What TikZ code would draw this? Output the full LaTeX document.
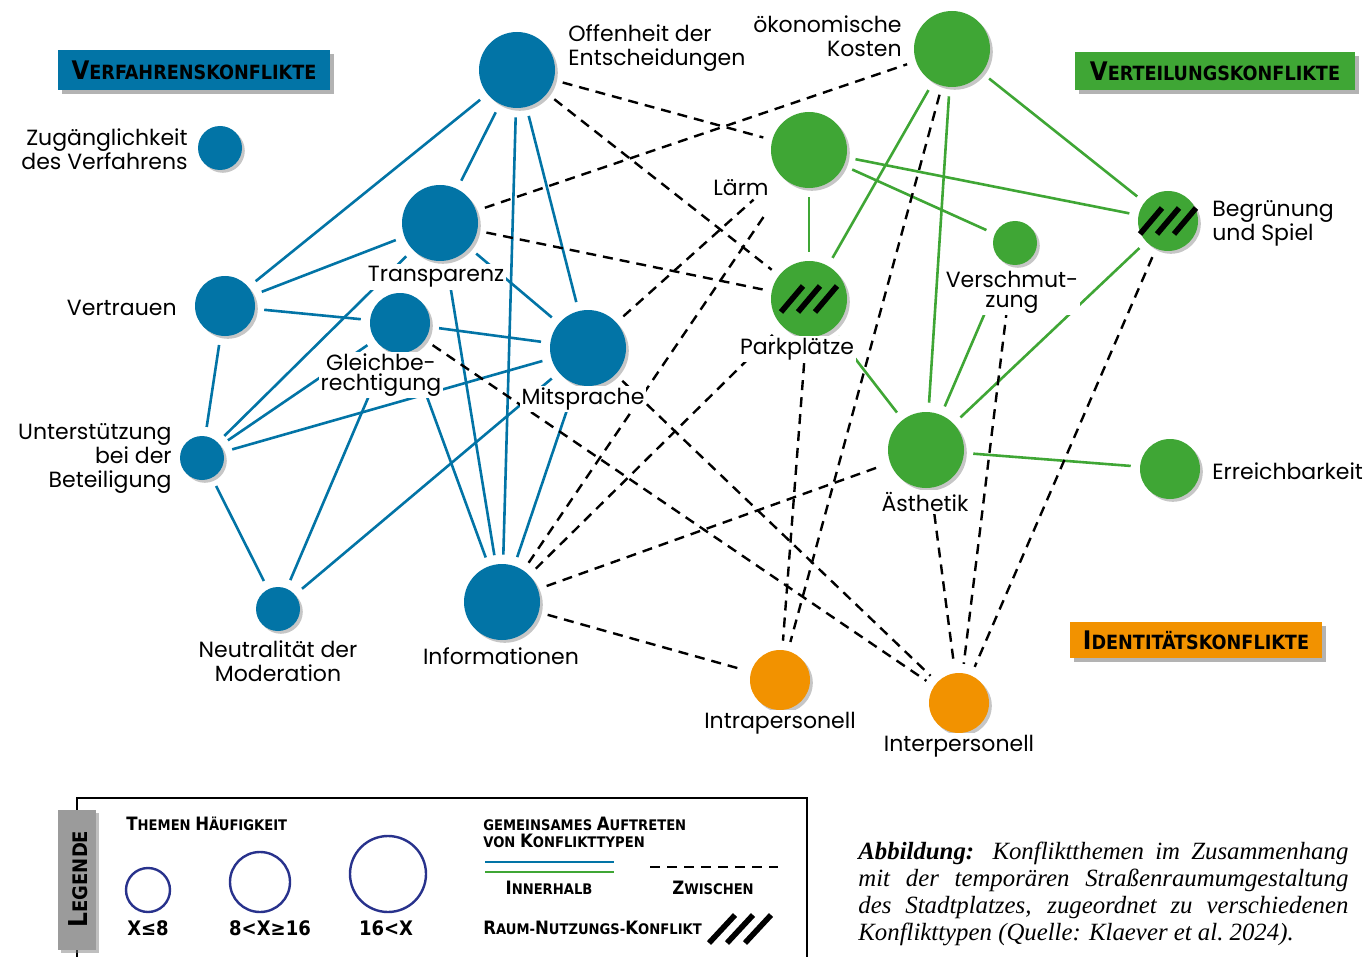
\documentclass[tikz,border=0pt]{standalone}
\usepackage{fontspec}
\setmainfont{Poppins}
\newfontfamily\kapfont{DejaVu Sans Condensed}
\newfontfamily\capfont{Liberation Serif}
\usetikzlibrary{shadows}
\definecolor{vblau}{RGB}{2,116,166}
\definecolor{vgruen}{RGB}{63,166,53}
\definecolor{iorange}{RGB}{242,146,0}
\definecolor{lgrau}{RGB}{155,155,155}
\definecolor{lnavy}{RGB}{40,50,140}
% fake small caps: size of the capital, capital, rest
\newcommand{\kap}[3]{{\fontsize{#1}{#1}\selectfont #2}#3}
\begin{document}
\begin{tikzpicture}[x=0.5pt,y=-0.5pt,
    thema/.style={circle,inner sep=0pt,drop shadow={shadow xshift=1.4pt,shadow yshift=-1.4pt,opacity=0.45}},
    klein/.style={thema,minimum size=22pt},
    mittel/.style={thema,minimum size=30pt},
    gross/.style={thema,minimum size=38pt},
    lbl/.style={fill=white,inner sep=1pt,align=center,font=\fontsize{11}{12}\selectfont},
    eng/.style={font=\fontsize{11}{10}\selectfont},
    innen/.style={line width=1.3pt,shorten <=4.5pt,shorten >=4.5pt},
    zwischen/.style={line width=1.2pt,dash pattern=on 5pt off 3.5pt,shorten <=4.5pt,shorten >=4.5pt},
    kopf/.style={inner sep=0pt,font=\kapfont\bfseries\fontsize{9.8}{10}\selectfont,
        drop shadow={shadow xshift=2pt,shadow yshift=-2pt,opacity=0.6}},
    legtxt/.style={inner sep=0pt,align=left,font=\kapfont\bfseries\fontsize{7.3}{8.5}\selectfont},
]
\useasboundingbox (0,0) rectangle (1370,957);

% Verfahrenskonflikte
\node[gross,fill=vblau] (offen) at (517,70) {};
\node[klein,fill=vblau] (zugang) at (220,148) {};
\node[gross,fill=vblau] (transp) at (440,223) {};
\node[mittel,fill=vblau] (vertr) at (225,306) {};
\node[mittel,fill=vblau] (gleich) at (400,323) {};
\node[gross,fill=vblau] (mitspr) at (588,348) {};
\node[klein,fill=vblau] (unterst) at (202,458) {};
\node[klein,fill=vblau] (neutr) at (278,609) {};
\node[gross,fill=vblau] (inform) at (502,602) {};
% Verteilungskonflikte
\node[gross,fill=vgruen] (kosten) at (952,49) {};
\node[gross,fill=vgruen] (laerm) at (809,150) {};
\node[gross,fill=vgruen] (park) at (809,299) {};
\node[klein,fill=vgruen] (schmutz) at (1015,243) {};
\node[mittel,fill=vgruen] (begr) at (1168,221) {};
\node[gross,fill=vgruen] (aesth) at (926,450) {};
\node[mittel,fill=vgruen] (erreich) at (1170,469) {};
% Identitaetskonflikte
\node[mittel,fill=iorange] (intra) at (780,680) {};
\node[mittel,fill=iorange] (inter) at (959,703) {};

\foreach \a/\b in {offen/vertr,offen/transp,offen/inform,offen/mitspr,transp/vertr,transp/mitspr,
    transp/inform,transp/unterst,vertr/gleich,vertr/unterst,gleich/mitspr,gleich/unterst,gleich/neutr,
    gleich/inform,mitspr/unterst,mitspr/neutr,mitspr/inform,unterst/neutr}
    \draw[innen,vblau] (\a) -- (\b);
\foreach \a/\b in {kosten/park,kosten/aesth,kosten/begr,laerm/begr,laerm/schmutz,laerm/park,
    begr/aesth,aesth/schmutz,aesth/erreich,aesth/park}
    \draw[innen,vgruen] (\a) -- (\b);
\foreach \a/\b in {offen/laerm,offen/park,transp/kosten,transp/park,inform/park,inform/aesth,
    inform/intra,gleich/inter,mitspr/inter,park/intra,kosten/intra,aesth/inter,schmutz/inter,begr/inter}
    \draw[zwischen] (\a) -- (\b);
\draw[zwischen,shorten >=18pt] (mitspr) -- (laerm);
\draw[zwischen,shorten >=18pt] (inform) -- (laerm);

% Raum-Nutzungs-Konflikt
\foreach \n in {park,begr}
    \foreach \d in {-17,0,17}
        \draw[line width=2.8pt] ([shift={(\d-11,13)}]\n.center) -- ([shift={(\d+11,-13)}]\n.center);

\node[lbl,anchor=west,align=left] (offen-l) at (566,48) {Offenheit der\\Entscheidungen};
\node[lbl,anchor=east,align=right] (zugang-l) at (190,149) {Zugänglichkeit\\des Verfahrens};
\node[lbl] (transp-l) at (436,277) {Transparenz};
\node[lbl,anchor=east] (vertr-l) at (179,308) {Vertrauen};
\node[lbl,eng] (gleich-l) at (381,375) {Gleichbe-\\rechtigung};
\node[lbl] (mitspr-l) at (583,399) {Mitsprache};
\node[lbl,anchor=east,align=right] (unterst-l) at (174,458) {Unterstützung\\bei der\\Beteiligung};
\node[lbl] (neutr-l) at (278,661) {Neutralität der\\Moderation};
\node[lbl] (inform-l) at (501,656) {Informationen};
\node[lbl,anchor=east,align=right] (kosten-l) at (904,36) {ökonomische\\Kosten};
\node[lbl] (laerm-l) at (741,188) {Lärm};
\node[lbl] (park-l) at (797,349) {Parkplätze};
\node[lbl,eng] (schmutz-l) at (1012,292) {Verschmut-\\zung};
\node[lbl,anchor=west,align=left] (begr-l) at (1210,223) {Begrünung\\und Spiel};
\node[lbl] (aesth-l) at (925,502) {Ästhetik};
\node[lbl,anchor=west] (erreich-l) at (1210,471) {Erreichbarkeit};
\node[lbl] (intra-l) at (780,723) {Intrapersonell};
\node[lbl] (inter-l) at (959,746) {Interpersonell};

\node[kopf,fill=vblau,minimum width=136pt,minimum height=20pt] (verf-k) at (194,70) {\kap{12.8}{V}{ERFAHRENSKONFLIKTE}};
\node[kopf,fill=vgruen,minimum width=140pt,minimum height=19pt] (vert-k) at (1215,71) {\kap{12.8}{V}{ERTEILUNGSKONFLIKTE}};
\node[kopf,fill=iorange,minimum width=126pt,minimum height=18pt] (iden-k) at (1196,640) {\kap{12.8}{I}{DENTITÄTSKONFLIKTE}};

% Legende
\draw[line width=1.2pt] (77,957) -- (77,798) -- (807,798) -- (807,957);
\fill[lgrau,drop shadow={shadow xshift=1.5pt,shadow yshift=-1.5pt,opacity=0.5}] (58,810) rectangle (96,950);
\node[rotate=90,inner sep=0pt,font=\kapfont\bfseries\fontsize{10}{10}\selectfont] (leg-tab) at (78,879) {\kap{13}{L}{EGENDE}};
\node[legtxt,anchor=west] (leg-th) at (126,824) {\kap{9.2}{T}{HEMEN} \kap{9.2}{H}{ÄUFIGKEIT}};
\node[circle,draw=lnavy,line width=1.2pt,minimum size=22pt] (leg-k) at (148,890) {};
\node[circle,draw=lnavy,line width=1.2pt,minimum size=30pt] (leg-m) at (260,882) {};
\node[circle,draw=lnavy,line width=1.2pt,minimum size=38pt] (leg-g) at (388,874) {};
\node[inner sep=0pt,font=\kapfont\bfseries\fontsize{10}{10}\selectfont] (leg-kt) at (148,928) {X≤8};
\node[inner sep=0pt,font=\kapfont\bfseries\fontsize{10}{10}\selectfont] (leg-mt) at (270,928) {8<X≥16};
\node[inner sep=0pt,font=\kapfont\bfseries\fontsize{10}{10}\selectfont] (leg-gt) at (386,928) {16<X};
\node[legtxt,anchor=west] (leg-ga) at (483,832) {GEMEINSAMES \kap{9.2}{A}{UFTRETEN}\\VON \kap{9.2}{K}{ONFLIKTTYPEN}};
\coordinate (ib1) at (485,862);
\coordinate (ib2) at (614,862);
\coordinate (ig1) at (485,872);
\coordinate (ig2) at (614,872);
\coordinate (zw1) at (650,867);
\coordinate (zw2) at (778,867);
\draw[vblau,line width=1.3pt] (ib1) -- (ib2);
\draw[vgruen,line width=1.3pt] (ig1) -- (ig2);
\draw[line width=1.2pt,dash pattern=on 5pt off 3.5pt] (zw1) -- (zw2);
\node[legtxt] (leg-in) at (549,888) {\kap{9.2}{I}{NNERHALB}};
\node[legtxt] (leg-zw) at (713,888) {\kap{9.2}{Z}{WISCHEN}};
\node[legtxt,anchor=west] (leg-rn) at (483,928) {\kap{9.2}{R}{AUM}-\kap{9.2}{N}{UTZUNGS}-\kap{9.2}{K}{ONFLIKT}};
\coordinate (leg-r) at (740,929);
\foreach \d in {-18,0,18}
    \draw[line width=2.8pt] ([shift={(\d-13,14)}]leg-r) -- ([shift={(\d+13,-14)}]leg-r);

\node[anchor=north west,inner sep=0pt,text width=245pt,align=justify,
    font=\capfont\itshape\fontsize{12.4}{13.5}\selectfont] (caption) at (858,842)
    {\textbf{Abbildung:} Konfliktthemen im Zusammenhang\linebreak
     mit der temporären Straßenraumumgestaltung\linebreak
     des Stadtplatzes, zugeordnet zu verschiedenen\linebreak
     Konflikttypen (Quelle: Klaever et al.\ 2024).};
\end{tikzpicture}
\end{document}
